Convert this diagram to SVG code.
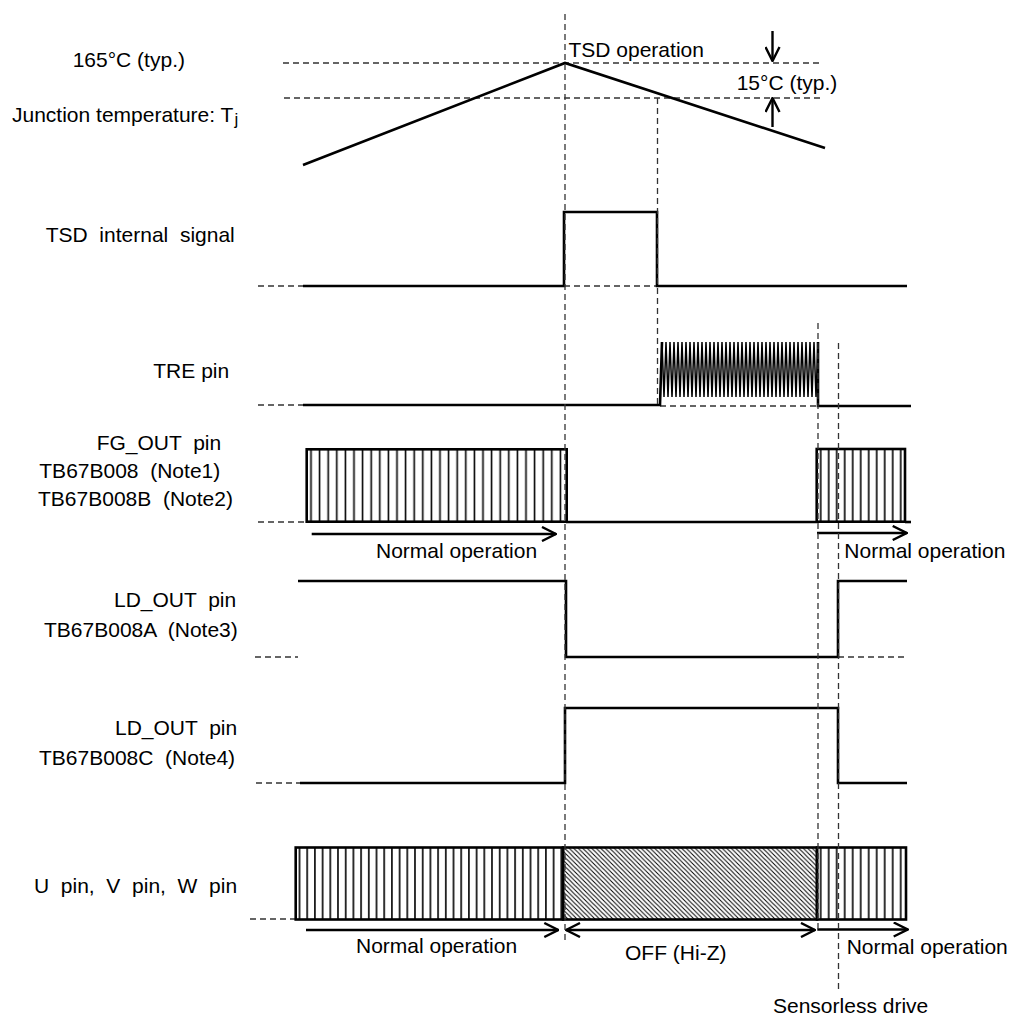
<svg xmlns="http://www.w3.org/2000/svg" width="1010" height="1020" viewBox="0 0 1010 1020">
<style>
text{font-family:"Liberation Sans",Arial,sans-serif;font-size:21px;fill:#000;white-space:pre}
.w{fill:none;stroke:#000;stroke-width:2.6;stroke-linejoin:miter}
.z{fill:none;stroke:#000;stroke-width:1.5;stroke-linejoin:miter}
.d{fill:none;stroke:#333;stroke-width:1.3;stroke-dasharray:6,4}
.a{fill:none;stroke:#000;stroke-width:2.4}
.bx{stroke:#000;stroke-width:2.6}
</style>
<defs>
<marker id="ah" viewBox="0 0 16 16" refX="15" refY="8" markerWidth="16" markerHeight="16" markerUnits="userSpaceOnUse" orient="auto-start-reverse">
<path d="M1,1 L15,8 L1,15" fill="none" stroke="#000" stroke-width="2.4"/>
</marker>
<pattern id="vsA" patternUnits="userSpaceOnUse" x="306.7" y="0" width="8.6" height="20"><line x1="4.3" y1="0" x2="4.3" y2="20" stroke="#000" stroke-width="1.6"/></pattern>
<pattern id="vsB" patternUnits="userSpaceOnUse" x="295.7" y="0" width="7.7" height="20"><line x1="3.8" y1="0" x2="3.8" y2="20" stroke="#000" stroke-width="1.6"/></pattern>
<pattern id="vsC" patternUnits="userSpaceOnUse" x="816.7" y="0" width="8" height="20"><line x1="4" y1="0" x2="4" y2="20" stroke="#000" stroke-width="1.6"/></pattern>
<pattern id="hatch" patternUnits="userSpaceOnUse" width="4.5" height="4.5"><path d="M-1,-1 L5.5,5.5 M-1,3.5 L1,5.5 M3.5,-1 L5.5,1" stroke="#000" stroke-width="1"/></pattern>
</defs>

<g id="labels">
<text x="72.7" y="67">165°C (typ.)</text>
<text x="12" y="122">Junction temperature: T<tspan font-size="17" dx="1" dy="3">j</tspan></text>
<text x="45.7" y="241.5">TSD  internal  signal</text>
<text x="153.3" y="378">TRE pin</text>
<text x="96.7" y="450">FG_OUT  pin</text>
<text x="39.3" y="478">TB67B008  (Note1)</text>
<text x="38" y="506">TB67B008B  (Note2)</text>
<text x="114" y="607">LD_OUT  pin</text>
<text x="44" y="637">TB67B008A  (Note3)</text>
<text x="115" y="735">LD_OUT  pin</text>
<text x="39" y="765">TB67B008C  (Note4)</text>
<text x="34" y="893">U  pin,  V  pin,  W  pin</text>
</g>

<g id="tj">
<line class="d" x1="283" y1="63" x2="820" y2="63"/>
<line class="d" x1="284" y1="98" x2="823" y2="98"/>
<polyline class="w" points="303,165 565,63 825,148"/>
<text x="568.5" y="57">TSD operation</text>
<text x="736.7" y="90">15°C (typ.)</text>
<line class="a" x1="772.5" y1="31" x2="772.5" y2="61" marker-end="url(#ah)"/>
<line class="a" x1="772.5" y1="127" x2="772.5" y2="98" marker-end="url(#ah)"/>
</g>

<g id="tsd">
<path class="d" d="M258,286 H303 M564,286 H657"/>
<path class="w" d="M303,286 H564 V212 H657 V286 H907"/>
</g>

<g id="tre">
<path class="d" d="M258,405 H303 M660,406 H818"/>
<path class="w" d="M303,405 H660 L662,342"/>
<path class="z" d="M662,342
l2,55 l2,-55 l2,55 l2,-55 l2,55 l2,-55 l2,55 l2,-55 l2,55 l2,-55 l2,55 l2,-55 l2,55 l2,-55 l2,55 l2,-55 l2,55 l2,-55 l2,55 l2,-55
l2,55 l2,-55 l2,55 l2,-55 l2,55 l2,-55 l2,55 l2,-55 l2,55 l2,-55 l2,55 l2,-55 l2,55 l2,-55 l2,55 l2,-55 l2,55 l2,-55 l2,55 l2,-55
l2,55 l2,-55 l2,55 l2,-55 l2,55 l2,-55 l2,55 l2,-55 l2,55 l2,-55 l2,55 l2,-55 l2,55 l2,-55 l2,55 l2,-55 l2,55 l2,-55 l2,55 l2,-55
l2,55 l2,-55 l2,55 l2,-55 l2,55 l2,-55 l2,55 l2,-55 l2,55 l2,-55 l2,55 l2,-55 l2,55 l2,-55 l2,55 l2,-55 l2,55 l2,-55"/>
<path class="w" d="M818,342 V406 H911"/>
</g>

<g id="fg">
<path class="d" d="M258,522 H306"/>
<rect class="bx" x="306.7" y="449.3" width="260" height="72.4" fill="url(#vsA)"/>
<path class="w" d="M566,522 H817"/>
<rect class="bx" x="816.7" y="449" width="88.3" height="72.7" fill="url(#vsC)"/>
<path class="w" d="M905,522 H911"/>
<line class="a" x1="311.7" y1="534" x2="556" y2="534" marker-end="url(#ah)"/>
<text x="376" y="558">Normal operation</text>
<line class="a" x1="817" y1="533" x2="906.7" y2="533" marker-end="url(#ah)"/>
<text x="844.3" y="558">Normal operation</text>
</g>

<g id="ldA">
<path class="d" d="M255,657 H298 M838,657 H905"/>
<path class="w" d="M298,581 H566 V657 H838 V581 H907"/>
</g>

<g id="ldC">
<path class="d" d="M256,783 H300"/>
<path class="w" d="M300,783 H565 V708 H838 V783 H907"/>
</g>

<g id="uvw">
<path class="d" d="M250,919 H295"/>
<rect class="bx" x="295.7" y="847.5" width="267.3" height="72" fill="url(#vsB)"/>
<rect class="bx" x="563" y="847.5" width="254" height="72" fill="url(#hatch)"/>
<rect class="bx" x="817" y="847.5" width="89" height="72" fill="url(#vsC)"/>
<line class="a" x1="306" y1="930" x2="558.3" y2="930" marker-end="url(#ah)"/>
<line class="a" x1="566" y1="930" x2="815" y2="930" marker-start="url(#ah)" marker-end="url(#ah)"/>
<line class="a" x1="817.3" y1="929.5" x2="907.7" y2="929.5" marker-end="url(#ah)"/>
<text x="356" y="953">Normal operation</text>
<text x="625" y="960">OFF (Hi-Z)</text>
<text x="846.7" y="954">Normal operation</text>
</g>

<g id="connectors">
<line class="d" x1="565" y1="14" x2="565" y2="943"/>
<line class="d" x1="657.5" y1="98" x2="657.5" y2="405"/>
<line class="d" x1="818" y1="323" x2="818" y2="933"/>
<line class="d" x1="838.5" y1="343" x2="838.5" y2="993"/>
</g>

<text x="773" y="1013">Sensorless drive</text>
</svg>
